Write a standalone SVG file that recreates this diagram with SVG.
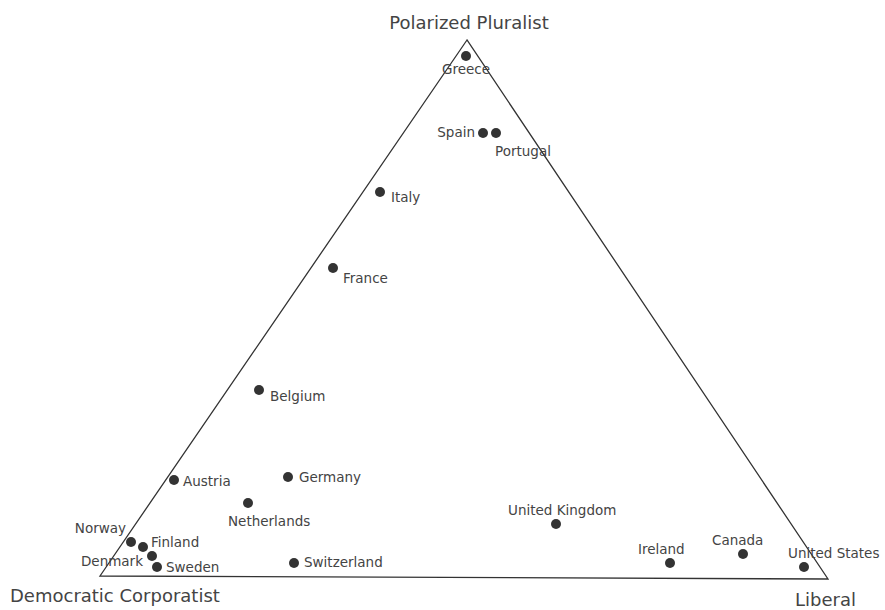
<svg xmlns="http://www.w3.org/2000/svg" width="885" height="610" viewBox="0 0 885 610">
<style>
.lbl{font-family:"DejaVu Sans",sans-serif;font-size:13.5px;fill:#444}
.ttl{font-family:"DejaVu Sans",sans-serif;font-size:18px;fill:#444}
.dot{fill:#333}
</style>
<rect width="885" height="610" fill="#fff"/>
<g id="connectors">
<polygon points="467,40 100,576 828,579" fill="none" stroke="#333" stroke-width="1.3"/>
</g>
<g id="vertex-pp"><text class="ttl" x="469" y="29" text-anchor="middle">Polarized Pluralist</text></g>
<g id="vertex-dc"><text class="ttl" x="10" y="602">Democratic Corporatist</text></g>
<g id="vertex-lib"><text class="ttl" x="795" y="606">Liberal</text></g>
<g id="greece"><circle class="dot" cx="466" cy="56" r="5"/><text class="lbl" x="442" y="74">Greece</text></g>
<g id="spain"><circle class="dot" cx="483" cy="133" r="5"/><text class="lbl" x="475" y="137" text-anchor="end">Spain</text></g>
<g id="portugal"><circle class="dot" cx="496" cy="133" r="5"/><text class="lbl" x="495" y="156">Portugal</text></g>
<g id="italy"><circle class="dot" cx="380" cy="192" r="5"/><text class="lbl" x="391" y="202">Italy</text></g>
<g id="france"><circle class="dot" cx="333" cy="268" r="5"/><text class="lbl" x="343" y="283">France</text></g>
<g id="belgium"><circle class="dot" cx="259" cy="390" r="5"/><text class="lbl" x="270" y="401">Belgium</text></g>
<g id="austria"><circle class="dot" cx="174" cy="480" r="5"/><text class="lbl" x="183" y="486">Austria</text></g>
<g id="germany"><circle class="dot" cx="288" cy="477" r="5"/><text class="lbl" x="299" y="482">Germany</text></g>
<g id="netherlands"><circle class="dot" cx="248" cy="503" r="5"/><text class="lbl" x="228" y="526">Netherlands</text></g>
<g id="uk"><circle class="dot" cx="556" cy="524" r="5"/><text class="lbl" x="508" y="515">United Kingdom</text></g>
<g id="norway"><circle class="dot" cx="131" cy="542" r="5"/><text class="lbl" x="126" y="533" text-anchor="end">Norway</text></g>
<g id="finland"><circle class="dot" cx="143" cy="547" r="5"/><text class="lbl" x="151" y="547">Finland</text></g>
<g id="denmark"><circle class="dot" cx="152" cy="556" r="5"/><text class="lbl" x="143" y="566" text-anchor="end">Denmark</text></g>
<g id="sweden"><circle class="dot" cx="157" cy="567" r="5"/><text class="lbl" x="166" y="572">Sweden</text></g>
<g id="switzerland"><circle class="dot" cx="294" cy="563" r="5"/><text class="lbl" x="304" y="567">Switzerland</text></g>
<g id="ireland"><circle class="dot" cx="670" cy="563" r="5"/><text class="lbl" x="638" y="554">Ireland</text></g>
<g id="canada"><circle class="dot" cx="743" cy="554" r="5"/><text class="lbl" x="712" y="545">Canada</text></g>
<g id="us"><circle class="dot" cx="804" cy="567" r="5"/><text class="lbl" x="788" y="558">United States</text></g>
</svg>
